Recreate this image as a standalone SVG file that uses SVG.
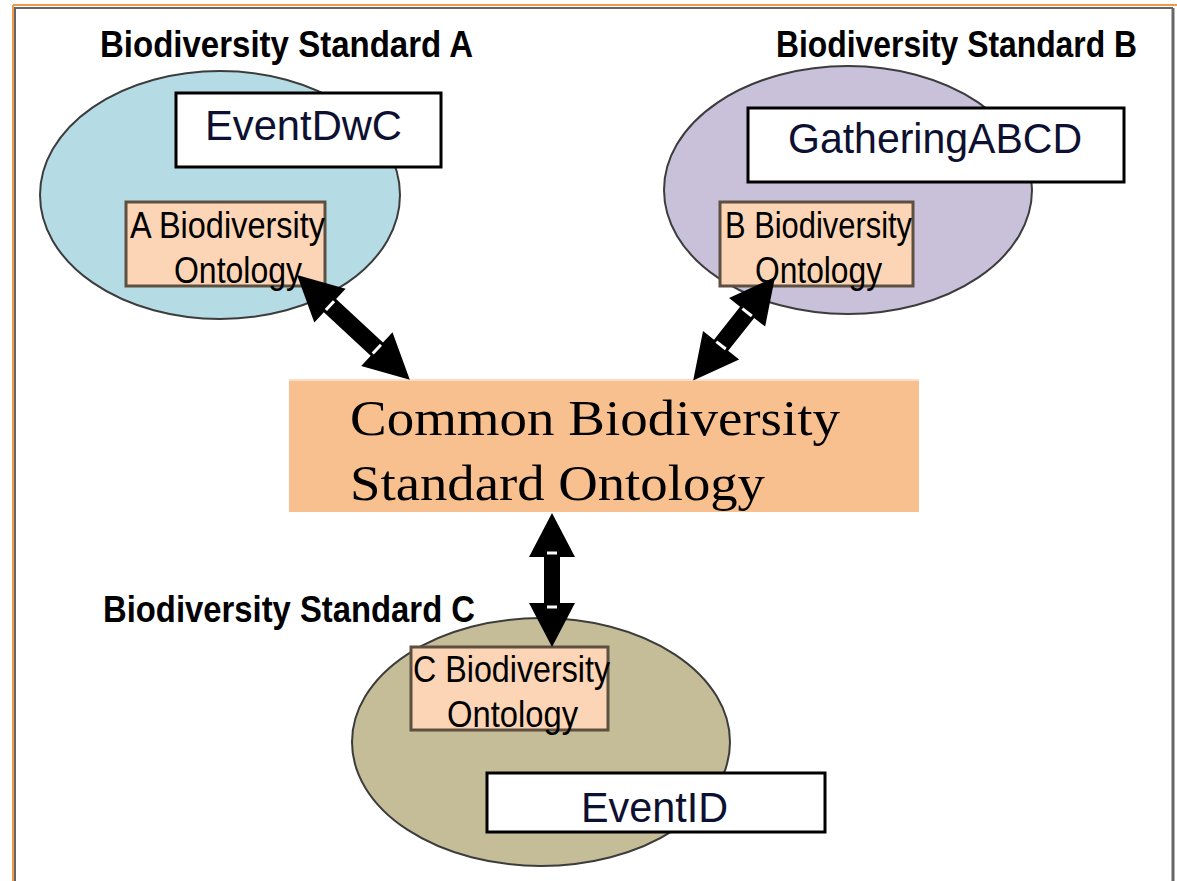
<svg xmlns="http://www.w3.org/2000/svg" width="1177" height="881" viewBox="0 0 1177 881">
<style>
.title{font-family:"Liberation Sans",Arial,sans-serif;font-weight:bold;font-size:36px;fill:#000}
.onto{font-family:"Liberation Sans",Arial,sans-serif;font-size:36px;fill:#000}
.lbl{font-family:"Liberation Sans",Arial,sans-serif;font-size:42px;fill:#0d1030}
.big{font-family:"Liberation Serif","Times New Roman",serif;font-size:50px;fill:#000}
.ell{stroke:#3c3c3c;stroke-width:2}
.obox{fill:#fbd5b5;stroke:#5e5040;stroke-width:3}
.wbox{fill:#fff;stroke:#000;stroke-width:3}
.arr{fill:#000}
.tick{stroke:#fff;stroke-width:3}
</style>
<rect x="0" y="0" width="1177" height="881" fill="#fff"/>
<g id="frame">
<line x1="13" y1="5" x2="1177" y2="5" stroke="#f39a4a" stroke-width="2"/>
<line x1="13" y1="8" x2="1173" y2="8" stroke="#666" stroke-width="2"/>
<line x1="13" y1="5" x2="13" y2="881" stroke="#f39a4a" stroke-width="2"/>
<line x1="15" y1="8" x2="15" y2="881" stroke="#666" stroke-width="2"/>
<line x1="1173" y1="8" x2="1173" y2="881" stroke="#666" stroke-width="3"/>
</g>
<g id="standardA">
<ellipse class="ell" cx="220" cy="195" rx="180" ry="124" fill="#b5dce5"/>
<text class="title" x="100" y="57" textLength="373" lengthAdjust="spacingAndGlyphs">Biodiversity Standard A</text>
<rect class="wbox" x="176" y="93" width="265" height="74"/>
<text class="lbl" x="205" y="140" textLength="197" lengthAdjust="spacingAndGlyphs">EventDwC</text>
<rect class="obox" x="126" y="202" width="199" height="84"/>
<text class="onto" x="130" y="238" textLength="195" lengthAdjust="spacingAndGlyphs">A Biodiversity</text>
<text class="onto" x="174" y="283" textLength="128" lengthAdjust="spacingAndGlyphs">Ontology</text>
</g>
<g id="standardB">
<ellipse class="ell" cx="848" cy="190" rx="184" ry="124" fill="#c9c0da"/>
<text class="title" x="776" y="57" textLength="361" lengthAdjust="spacingAndGlyphs">Biodiversity Standard B</text>
<rect class="wbox" x="748" y="108" width="376" height="74"/>
<text class="lbl" x="788" y="153" textLength="294" lengthAdjust="spacingAndGlyphs">GatheringABCD</text>
<rect class="obox" x="720" y="202" width="193" height="84"/>
<text class="onto" x="725" y="238" textLength="187" lengthAdjust="spacingAndGlyphs">B Biodiversity</text>
<text class="onto" x="755" y="283" textLength="127" lengthAdjust="spacingAndGlyphs">Ontology</text>
</g>
<g id="standardC">
<ellipse class="ell" cx="541" cy="742" rx="189" ry="124" fill="#c4bd97"/>
<text class="title" x="103" y="622" textLength="372" lengthAdjust="spacingAndGlyphs">Biodiversity Standard C</text>
<rect class="obox" x="411" y="647" width="197" height="83"/>
<text class="onto" x="413" y="682" textLength="197" lengthAdjust="spacingAndGlyphs">C Biodiversity</text>
<text class="onto" x="447" y="727" textLength="131" lengthAdjust="spacingAndGlyphs">Ontology</text>
<rect class="wbox" x="487" y="773" width="338" height="59"/>
<text class="lbl" x="581" y="822" textLength="147" lengthAdjust="spacingAndGlyphs">EventID</text>
</g>
<g id="common">
<rect x="289" y="380" width="630" height="132" fill="#f9c08f"/>
<line x1="289" y1="380" x2="919" y2="380" stroke="#fcdcc4" stroke-width="2"/>
<text class="big" x="350" y="435" textLength="490" lengthAdjust="spacingAndGlyphs">Common Biodiversity</text>
<text class="big" x="350" y="500" textLength="415" lengthAdjust="spacingAndGlyphs">Standard Ontology</text>
</g>
<g id="connectors">
<g transform="translate(297,275) rotate(42.9)">
<polygon class="arr" points="0,0 45,-23 45,-9 109,-9 109,-23 154,0 109,23 109,9 45,9 45,23"/>
<line class="tick" x1="45" y1="-6" x2="45" y2="6"/>
<line class="tick" x1="109" y1="-6" x2="109" y2="6"/>
</g>
<g transform="translate(775,277) rotate(128.3)">
<polygon class="arr" points="0,0 45,-23 45,-9 87,-9 87,-23 132,0 87,23 87,9 45,9 45,23"/>
<line class="tick" x1="45" y1="-6" x2="45" y2="6"/>
<line class="tick" x1="87" y1="-6" x2="87" y2="6"/>
</g>
<g transform="translate(552,513) rotate(90)">
<polygon class="arr" points="0,0 44,-23 44,-8 90,-8 90,-23 134,0 90,23 90,8 44,8 44,23"/>
<line class="tick" x1="40" y1="-5" x2="40" y2="5"/>
<line class="tick" x1="94" y1="-5" x2="94" y2="5"/>
</g>
</g>
</svg>
